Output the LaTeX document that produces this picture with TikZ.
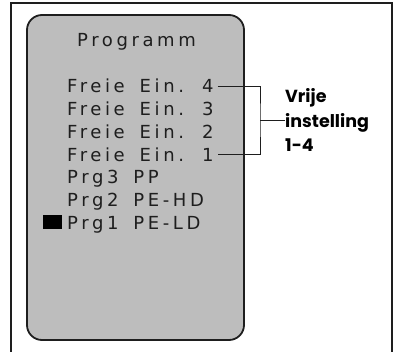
\documentclass[tikz,border=0pt]{standalone}
\usepackage{fontspec}
\usepackage{xcolor}
\usepackage{tikz}
\usetikzlibrary{calc}
\newfontfamily\menufont{DejaVu Sans}[LetterSpace=20,WordSpace=1.6]
\newfontfamily\labfont{Poppins}
\definecolor{ink}{HTML}{1E1E1E}
\definecolor{panel}{HTML}{BDBDBD}
\tikzset{
  frame/.style={draw=ink, line width=1.6pt},
  screen/.style={draw=ink, fill=panel, line width=1.8pt, rounded corners=15pt},
  menu/.style={anchor=base west, inner sep=0pt, text=ink, font=\menufont\fontsize{18}{22}\selectfont},
  cursor/.style={fill=black, minimum width=19pt, minimum height=14pt, inner sep=0pt},
  brk/.style={draw=ink, line width=0.9pt},
  lab/.style={anchor=west, inner sep=0pt, align=left, text=black, font=\labfont\bfseries\fontsize{17.5}{24.5}\selectfont},
}
\begin{document}
\begin{tikzpicture}[x=1pt,y=-1pt]
  \useasboundingbox (0,0) rectangle (394,352);
  % outer frame, open at the bottom
  \draw[frame] (11,352) -- (11,3) -- (392,3) -- (392,352);
  % display
  \draw[screen] (27,15) rectangle (244,340);
  \node[menu] (prog) at (77,47) {Programm};
  \foreach \name/\txt [count=\i from 0] in {fe4/Freie Ein. 4,fe3/Freie Ein. 3,fe2/Freie Ein. 2,fe1/Freie Ein. 1,prg3/Prg3 PP,prg2/Prg2 PE-HD,prg1/Prg1 PE-LD}
    \node[menu] (\name) at (67,{93+22.67*\i}) {\txt};
  \node[cursor] (cur) at (52.5,222) {};
  % bracket and label
  \node[lab] (vrij) at (285,120) {Vrije\\instelling\\1-4};
  \coordinate (bmid) at (260,120);
  \draw[brk] ([xshift=4pt]fe4.east) -| (bmid) |- ([xshift=4pt]fe1.east);
  \draw[brk] (bmid) -- (vrij.west);
\end{tikzpicture}
\end{document}
